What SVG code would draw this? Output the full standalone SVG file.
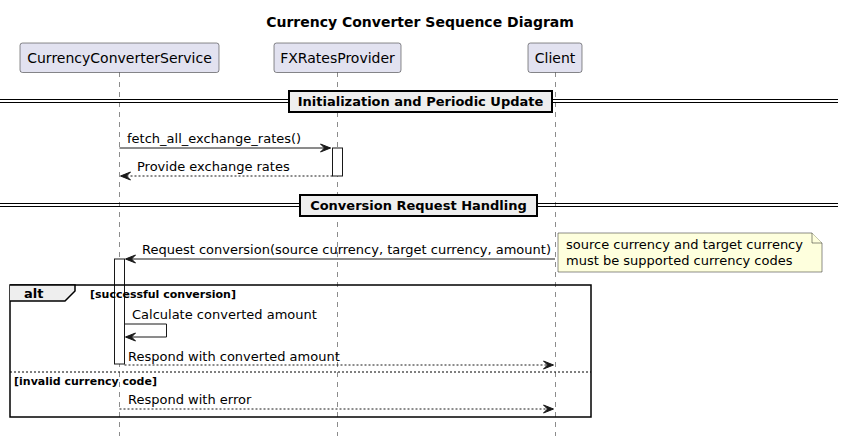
<svg xmlns="http://www.w3.org/2000/svg" width="844" height="440" viewBox="0 0 844 440">
<defs>
<style>
text{font-family:"DejaVu Sans","Noto Sans",sans-serif;fill:#000}
.part{fill:#E2E2F0;stroke:#181818;stroke-width:0.5}
.pt{font-size:14px}
.life{stroke:#181818;stroke-width:0.5;stroke-dasharray:5,5}
.msg{font-size:13px}
.ln{stroke:#181818;stroke-width:1;fill:none}
.dash{stroke:#181818;stroke-width:1;fill:none;stroke-dasharray:2,2}
.head{fill:#181818;stroke:#181818;stroke-width:1}
.act{fill:#FFFFFF;stroke:#181818;stroke-width:1}
.div{stroke:#000;stroke-width:1}
.divbox{fill:#EEEEEE;stroke:#000;stroke-width:2}
.divt{font-size:13px;font-weight:bold}
.frame{fill:none;stroke:#000;stroke-width:1.5}
.tab{fill:#EEEEEE;stroke:#000;stroke-width:1.5}
.guard{font-size:11px;font-weight:bold}
</style>
</defs>
<text x="420" y="27" text-anchor="middle" style="font-size:14px;font-weight:bold">Currency Converter Sequence Diagram</text>

<g id="lifelines">
<line class="life" x1="119.5" y1="72" x2="119.5" y2="436"/>
<line class="life" x1="337.5" y1="72" x2="337.5" y2="436"/>
<line class="life" x1="555.5" y1="72" x2="555.5" y2="436"/>
</g>

<g id="CurrencyConverterService">
<rect class="part" x="20" y="43" width="199" height="29.5" rx="2.5"/>
<text class="pt" x="119.5" y="62.5" text-anchor="middle">CurrencyConverterService</text>
</g>
<g id="FXRatesProvider">
<rect class="part" x="274" y="43" width="127" height="29.5" rx="2.5"/>
<text class="pt" x="337.5" y="62.5" text-anchor="middle">FXRatesProvider</text>
</g>
<g id="Client">
<rect class="part" x="528" y="43" width="54" height="29.5" rx="2.5"/>
<text class="pt" x="555" y="62.5" text-anchor="middle">Client</text>
</g>

<g id="divider1">
<line class="div" x1="0" y1="99.5" x2="838" y2="99.5"/>
<line class="div" x1="0" y1="102.5" x2="838" y2="102.5"/>
<rect class="divbox" x="289" y="91" width="263" height="21"/>
<text class="divt" x="420.5" y="106" text-anchor="middle">Initialization and Periodic Update</text>
</g>

<g id="divider2">
<line class="div" x1="0" y1="203.5" x2="838" y2="203.5"/>
<line class="div" x1="0" y1="206.5" x2="838" y2="206.5"/>
<rect class="divbox" x="300" y="195" width="237" height="21"/>
<text class="divt" x="418.5" y="210" text-anchor="middle">Conversion Request Handling</text>
</g>

<g id="activations">
<rect class="act" x="332.5" y="148" width="10" height="28"/>
<rect class="act" x="114.5" y="259" width="10" height="105"/>
</g>

<g id="alt">
<rect class="frame" x="10" y="285" width="581" height="132"/>
<path class="tab" d="M10,285 L75,285 L75,291 L65,301 L10,301"/>
<text x="24" y="298" style="font-size:13px;font-weight:bold">alt</text>
<text class="guard" x="90" y="298">[successful conversion]</text>
<line x1="10" y1="372" x2="591" y2="372" style="stroke:#000;stroke-width:1;stroke-dasharray:2,2"/>
<text class="guard" x="14" y="385">[invalid currency code]</text>
</g>

<g id="note">
<path d="M558,233 L812,233 L822,243 L822,272 L558,272 Z" style="fill:#FEFFDD;stroke:#181818;stroke-width:0.5"/>
<path d="M812,233 L812,243 L822,243" style="fill:#FEFFDD;stroke:#181818;stroke-width:0.5"/>
<text x="566" y="249" style="font-size:13px">source currency and target currency</text>
<text x="566" y="265" style="font-size:13px">must be supported currency codes</text>
</g>

<g id="connectors">
<line class="ln" x1="119.5" y1="148" x2="330.5" y2="148"/>
<polygon class="head" points="320.5,144 330.5,148 320.5,152 324.5,148"/>
<text class="msg" x="127" y="143">fetch_all_exchange_rates()</text>

<line class="dash" x1="332.5" y1="176" x2="121.5" y2="176"/>
<polygon class="head" points="130.5,172 120.5,176 130.5,180 126.5,176"/>
<text class="msg" x="137" y="171">Provide exchange rates</text>

<line class="ln" x1="555" y1="259" x2="126.5" y2="259"/>
<polygon class="head" points="135.5,255 125.5,259 135.5,263 131.5,259"/>
<text class="msg" x="142" y="254">Request conversion(source currency, target currency, amount)</text>

<polyline class="ln" points="124.5,324 166.5,324 166.5,337 126.5,337"/>
<polygon class="head" points="135.5,333 125.5,337 135.5,341 131.5,337"/>
<text class="msg" x="132" y="319">Calculate converted amount</text>

<line class="dash" x1="124.5" y1="365" x2="552.5" y2="365"/>
<polygon class="head" points="543.5,361 553.5,365 543.5,369 547.5,365"/>
<text class="msg" x="128" y="361">Respond with converted amount</text>

<line class="dash" x1="119.5" y1="409" x2="552.5" y2="409"/>
<polygon class="head" points="543.5,405 553.5,409 543.5,413 547.5,409"/>
<text class="msg" x="128" y="404">Respond with error</text>
</g>
</svg>
